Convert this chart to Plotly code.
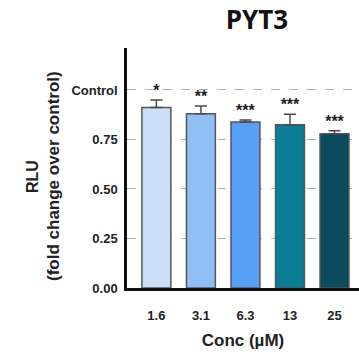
import plotly.graph_objects as go

categories = ["1.6", "3.1", "6.3", "13", "25"]
values = [0.911, 0.880, 0.838, 0.825, 0.779]
errors = [0.038, 0.039, 0.010, 0.052, 0.015]
stars = ["*", "**", "***", "***", "***"]
colors = ["#cbe0f8", "#8fbff4", "#57a0f6", "#0b7c95", "#0a4b5e"]
ytick_vals = [0, 0.25, 0.5, 0.75, 1.0]
ytick_text = ["0.00", "0.25", "0.50", "0.75", "Control"]

FONT = "Liberation Sans, Arial, sans-serif"

fig = go.Figure()
fig.add_trace(go.Bar(
    x=categories, y=values,
    marker=dict(color=colors, line=dict(color="#555555", width=1.5)),
    width=0.65,
    error_y=dict(type="data", array=errors, arrayminus=[0]*len(errors), symmetric=False,
                 color="#4a4a4a", thickness=1.5, width=6),
    showlegend=False,
))
fig.add_trace(go.Scatter(
    x=categories, y=[v + e for v, e in zip(values, errors)],
    mode="text", text=stars, textposition="top center",
    textfont=dict(family=FONT, size=16, color="#222222", weight="bold"),
    showlegend=False, cliponaxis=False,
))

fig.update_layout(
    width=359, height=354,
    margin=dict(l=127, r=0, t=48, b=66),
    paper_bgcolor="white", plot_bgcolor="white",
    font=dict(family=FONT, color="#222222"),
    title=dict(text="PYT3", x=257/359, xanchor="center", y=1 - 20/354, yanchor="middle",
               font=dict(family="Open Sans", size=26, color="#111111", weight="bold")),
    xaxis=dict(
        type="category", range=[-0.66, 4.55],
        showline=True, linecolor="#111111", linewidth=2.5,
        showgrid=False, ticks="", ticklabelstandoff=14,
        tickfont=dict(family=FONT, size=13, color="#222222", weight="bold"),
        title=dict(text="Conc (µM)", font=dict(family=FONT, size=17, color="#222222", weight="bold"), standoff=12),
    ),
    yaxis=dict(
        range=[0, 1.212],
        tickvals=ytick_vals, ticktext=ytick_text,
        showline=True, linecolor="#111111", linewidth=2.5,
        showgrid=True, gridcolor="#b0b0b0", griddash="dash", gridwidth=1,
        zeroline=False, ticks="", ticklabelstandoff=4,
        tickfont=dict(family=FONT, size=13, color="#222222", weight="bold"),
    ),
)

fig.add_annotation(text="RLU", xref="paper", yref="paper", x=0, y=0.5,
                   xshift=32 - 127, yshift=-(177 - 168), textangle=-90, showarrow=False,
                   font=dict(family=FONT, size=16, color="#222222", weight="bold"),
                   xanchor="center", yanchor="middle")
fig.add_annotation(text="(fold change over control)", xref="paper", yref="paper", x=0, y=0.5,
                   xshift=53 - 127, yshift=-(176 - 168), textangle=-90, showarrow=False,
                   font=dict(family=FONT, size=17, color="#222222", weight="bold"),
                   xanchor="center", yanchor="middle")

fig.write_html("out.html")
